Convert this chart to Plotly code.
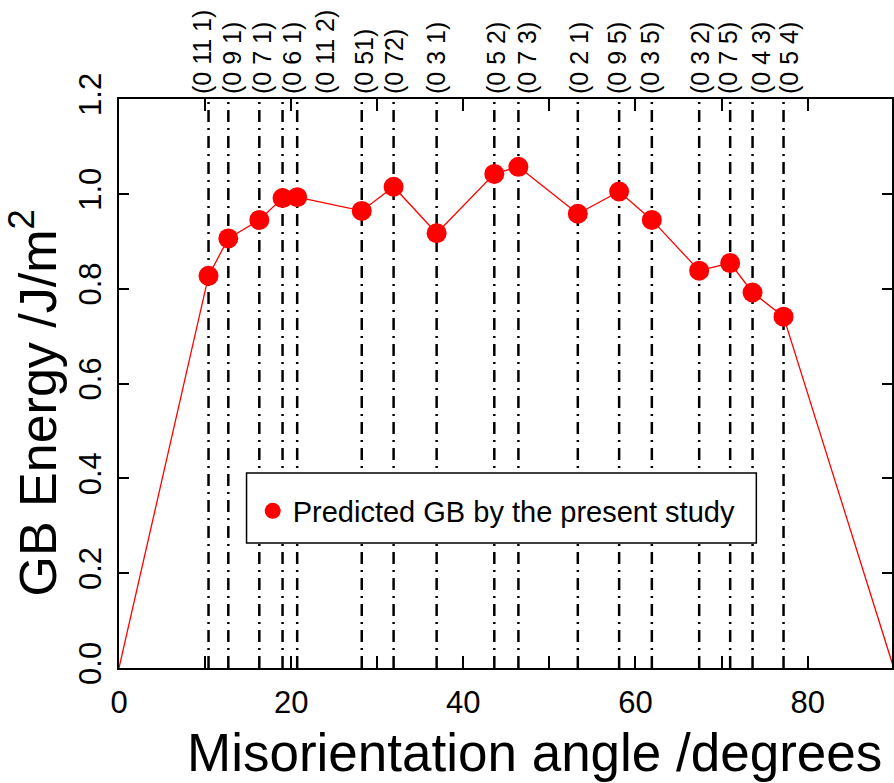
import plotly.graph_objects as go

# Misorientation angles (degrees) of the [100] tilt boundaries and predicted GB energies
angles = [10.4, 12.7, 16.3, 19.0, 20.7, 28.2, 31.9, 36.9, 43.6, 46.4,
          53.3, 58.1, 61.9, 67.4, 71.0, 73.6, 77.2]
energies = [0.827, 0.906, 0.945, 0.991, 0.993, 0.964, 1.015, 0.917, 1.042, 1.057,
            0.958, 1.005, 0.945, 0.838, 0.854, 0.792, 0.741]

# Boundary plane labels and where they sit along the top
plane_labels = ["(0 11 1)", "(0 9 1)", "(0 7 1)", "(0 6 1)", "(0 11 2)", "(0 51)",
                "(0 72)", "(0 3 1)", "(0 5 2)", "(0 7 3)", "(0 2 1)", "(0 9 5)",
                "(0 3 5)", "(0 3 2)", "(0 7 5)", "(0 4 3)", "(0 5 4)"]
label_pos = [9.8, 13.2, 16.7, 20.2, 24.0, 28.6, 32.1, 36.9, 43.9, 47.5,
             53.5, 57.9, 61.8, 67.6, 70.9, 74.7, 77.9]

# Curve end points (zero energy at 0 and 90 degrees)
x_start, x_end = 0, 90
x_ticks = [0, 10, 20, 30, 40, 50, 60, 70, 80]
x_ticktext = ["0", "", "20", "", "40", "", "60", "", "80"]
y_ticks = [0.0, 0.2, 0.4, 0.6, 0.8, 1.0, 1.2]

FONT = "Liberation Sans, Arial, sans-serif"

fig = go.Figure()

# Vertical reference lines at each boundary angle
vx, vy = [], []
for a in angles:
    vx += [a, a, None]
    vy += [0, 1.2, None]
fig.add_trace(go.Scatter(
    x=vx, y=vy, mode="lines",
    line=dict(color="black", width=2.5, dash="12px,6px,2px,6px"),
    hoverinfo="skip", showlegend=False,
))

# Connecting red line from 0 to 90 degrees
fig.add_trace(go.Scatter(
    x=[x_start] + angles + [x_end], y=[0] + energies + [0],
    mode="lines", line=dict(color="red", width=1.3),
    hoverinfo="skip", showlegend=False,
))

# Predicted energies
fig.add_trace(go.Scatter(
    x=angles, y=energies, mode="markers",
    marker=dict(color="red", size=20),
    name="Predicted GB by the present study",
))

# Invisible trace to carry the top label axis
fig.add_trace(go.Scatter(
    x=label_pos, y=[None] * len(label_pos), xaxis="x2", mode="markers",
    showlegend=False, hoverinfo="skip",
))

fig.update_layout(
    width=894, height=783,
    margin=dict(l=119, r=0, t=99, b=115),
    paper_bgcolor="white", plot_bgcolor="white",
    font=dict(family=FONT, color="black"),
    xaxis=dict(
        range=[0, 89.8], tickvals=x_ticks, ticktext=x_ticktext,
        ticks="inside", ticklen=12, tickwidth=1.5, tickcolor="black",
        showline=True, linecolor="black", linewidth=2, mirror="ticks",
        showgrid=False, zeroline=False,
        tickfont=dict(size=31, family=FONT), ticklabelstandoff=6,
    ),
    xaxis2=dict(
        overlaying="x", side="top", range=[0, 89.8],
        tickvals=label_pos, ticktext=plane_labels, tickangle=-90,
        ticks="", showline=False, showgrid=False, zeroline=False,
        tickfont=dict(size=25, family=FONT), ticklabelstandoff=4,
    ),
    yaxis=dict(
        range=[0, 1.2], tickvals=y_ticks, tickformat=".1f", tickangle=-90,
        ticks="inside", ticklen=10, tickwidth=1.5, tickcolor="black",
        showline=True, linecolor="black", linewidth=2, mirror="ticks",
        showgrid=False, zeroline=False,
        tickfont=dict(size=31, family=FONT), ticklabelstandoff=4,
    ),
    legend=dict(
        x=0.173, y=0.276, xanchor="left", yanchor="middle",
        borderwidth=0, bgcolor="rgba(0,0,0,0)",
        font=dict(size=29, family=FONT),
        itemwidth=30,
    ),
    shapes=[
        # legend frame
        dict(type="rect", xref="paper", yref="paper",
             x0=0.165, x1=0.8245, y0=0.2197, y1=0.3427,
             line=dict(color="black", width=1.5), fillcolor="white", layer="above"),
    ],
    annotations=[
        dict(text="Misorientation angle /degrees", xref="paper", yref="paper",
             x=1.0, y=0, xanchor="right", yanchor="top", yshift=-53, xshift=-8,
             showarrow=False, font=dict(size=53, family=FONT)),
        dict(text="GB Energy /J/m<sup>2</sup>", xref="paper", yref="paper",
             x=0, y=0.5, xanchor="center", yanchor="middle", xshift=-85, yshift=-20,
             textangle=-90, showarrow=False, font=dict(size=52, family=FONT)),
    ],
)

fig.write_html("out.html")
